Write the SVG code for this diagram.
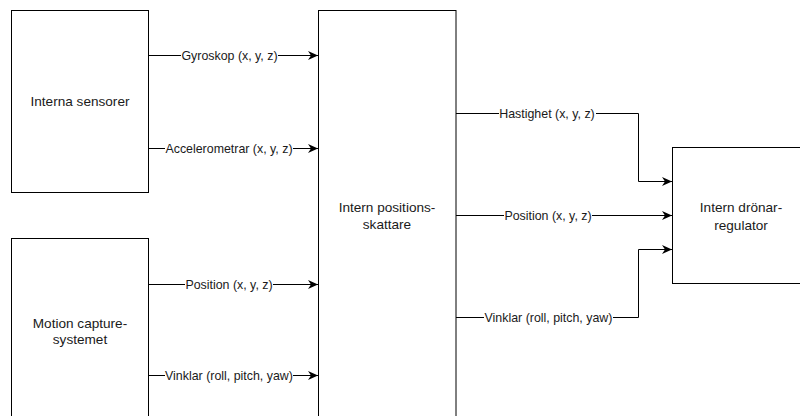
<svg xmlns="http://www.w3.org/2000/svg" width="800" height="416" viewBox="0 0 800 416">
<defs>
<style>
.box{fill:#fff;stroke:#000;stroke-width:1}
.edge{fill:none;stroke:#000;stroke-width:1}
.nt{font-family:"Liberation Sans",Arial,sans-serif;font-size:13.6px;fill:#1a1a1a;text-anchor:middle}
.lt{font-family:"Liberation Sans",Arial,sans-serif;font-size:12.4px;fill:#1a1a1a;text-anchor:middle}
.lbg{fill:#fff}
</style>
<marker id="arr" markerUnits="userSpaceOnUse" markerWidth="12" markerHeight="10" refX="10" refY="4.5" orient="auto" viewBox="0 0 12 10">
<path d="M0,0 L10,4.5 L0,9 L3,4.5 z" fill="#000"/>
</marker>
</defs>
<rect width="800" height="416" fill="#fff"/>
<g id="interna-sensorer">
<rect class="box" x="11.5" y="10.5" width="137" height="182"/>
<text class="nt" x="80" y="106">Interna sensorer</text>
</g>
<g id="motion-capture">
<rect class="box" x="11.5" y="238.5" width="137" height="190"/>
<text class="nt" x="80" y="328">Motion capture-</text>
<text class="nt" x="80" y="344">systemet</text>
</g>
<g id="positionsskattare">
<rect class="box" x="318.5" y="10.5" width="137.5" height="420"/>
<text class="nt" x="387" y="212">Intern positions-</text>
<text class="nt" x="387" y="229">skattare</text>
</g>
<g id="dronarregulator">
<rect class="box" x="672.5" y="147.5" width="137" height="136"/>
<text class="nt" x="741" y="212">Intern drönar-</text>
<text class="nt" x="741" y="229.5">regulator</text>
</g>
<g id="connectors">
<path class="edge" d="M148.5,55.5 H318" marker-end="url(#arr)"/>
<path class="edge" d="M148.5,148.5 H318" marker-end="url(#arr)"/>
<path class="edge" d="M148.5,284.5 H318" marker-end="url(#arr)"/>
<path class="edge" d="M148.5,375.5 H318" marker-end="url(#arr)"/>
<path class="edge" d="M456,113.5 H638.5 V181.5 H672" marker-end="url(#arr)"/>
<path class="edge" d="M456,215.5 H672" marker-end="url(#arr)"/>
<path class="edge" d="M456,317.5 H638.5 V249.5 H672" marker-end="url(#arr)"/>
<g id="labels">
<rect class="lbg" x="181" y="49" width="97" height="13"/>
<text class="lt" x="229.5" y="60">Gyroskop (x, y, z)</text>
<rect class="lbg" x="165" y="142" width="128" height="13"/>
<text class="lt" x="229" y="153">Accelerometrar (x, y, z)</text>
<rect class="lbg" x="185" y="278" width="88" height="13"/>
<text class="lt" x="229" y="289">Position (x, y, z)</text>
<rect class="lbg" x="165" y="369" width="128" height="13"/>
<text class="lt" x="229" y="380">Vinklar (roll, pitch, yaw)</text>
<rect class="lbg" x="499" y="107" width="97" height="13"/>
<text class="lt" x="547" y="118">Hastighet (x, y, z)</text>
<rect class="lbg" x="504" y="209" width="88" height="13"/>
<text class="lt" x="548" y="220">Position (x, y, z)</text>
<rect class="lbg" x="484" y="311" width="129" height="13"/>
<text class="lt" x="548.5" y="322">Vinklar (roll, pitch, yaw)</text>
</g>
</g>
</svg>
